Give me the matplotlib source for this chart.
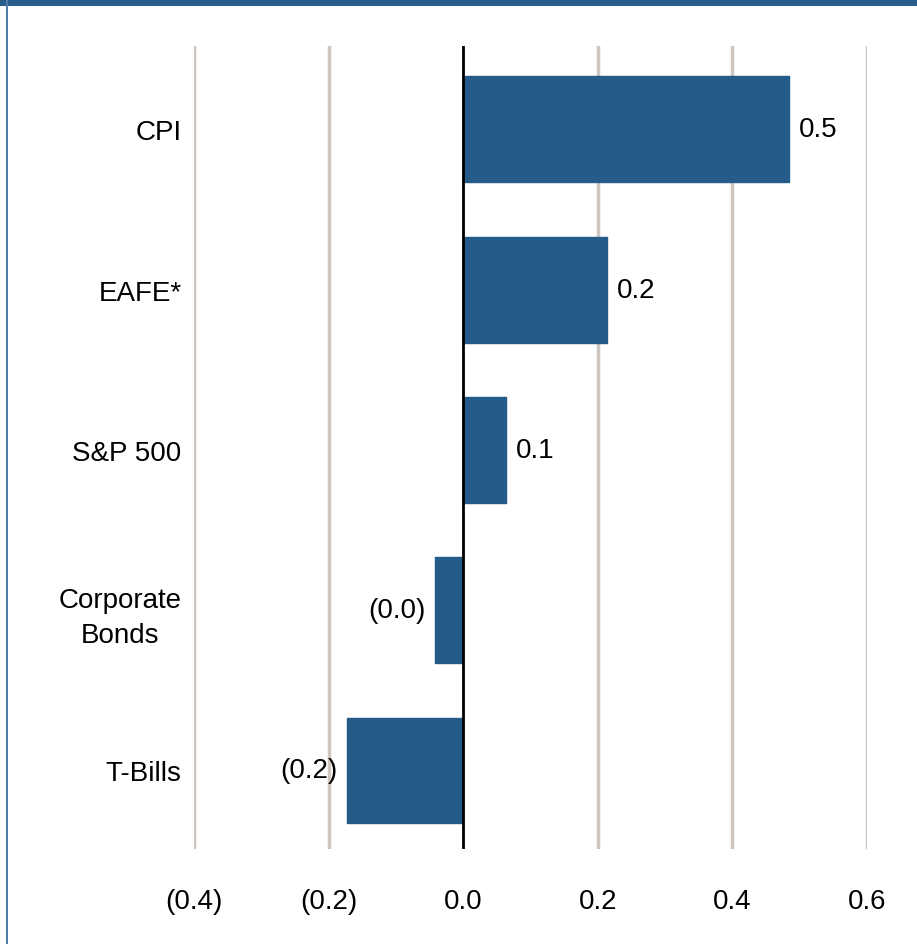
import matplotlib.pyplot as plt
from matplotlib.patches import Rectangle

categories = ["CPI", "EAFE*", "S&P 500", "Corporate\nBonds", "T-Bills"]
values = [0.484, 0.214, 0.064, -0.042, -0.172]
xticks = [-0.4, -0.2, 0.0, 0.2, 0.4, 0.6]

bar_color = "#255b88"
grid_color = "#cdc6c1"


def fmt(v):
    s = f"{abs(v):.1f}"
    return f"({s})" if v < 0 else s


plt.rcParams["font.family"] = ["Liberation Sans", "DejaVu Sans"]

W, H = 917, 945
fig = plt.figure(figsize=(W / 100, H / 100), dpi=100)

# frame: thick band along the top, thin rule down the left side
fig.patches.append(Rectangle((0, 1 - 7 / H), 1, 7 / H, transform=fig.transFigure,
                             facecolor="#285c8b", edgecolor="none", zorder=5))
fig.patches.append(Rectangle((6 / W, 0), 2 / W, 1, transform=fig.transFigure,
                             facecolor="#4f7ca9", edgecolor="none", zorder=5))

left, right = 194 / W, 867 / W
bottom, top = 1 - 850 / H, 1 - 47 / H
ax = fig.add_axes([left, bottom, right - left, top - bottom])

y = list(range(len(categories)))
ax.barh(y, values, height=0.66, color=bar_color, edgecolor=bar_color,
        linewidth=1, joinstyle="round", zorder=3)

for yi, v in zip(y, values):
    if v >= 0:
        ax.annotate(fmt(v), (v, yi), xytext=(7, 0), textcoords="offset points",
                    ha="left", va="center", fontsize=20)
    else:
        ax.annotate(fmt(v), (v, yi), xytext=(-7, 0), textcoords="offset points",
                    ha="right", va="center", fontsize=20)

ax.set_xlim(-0.4, 0.6)
ax.set_ylim(4.49, -0.52)
ax.set_xticks(xticks)
ax.set_xticklabels([fmt(t) for t in xticks], fontsize=20)
ax.set_yticks(y)
ax.set_yticklabels(categories, fontsize=20, multialignment="center",
                   linespacing=1.45)
ax.tick_params(axis="x", length=0, pad=28)
ax.tick_params(axis="y", length=0, pad=9)

for t in xticks:
    if t != 0:
        ax.axvline(t, color=grid_color, linewidth=2.5, zorder=1)
ax.axvline(0, color="black", linewidth=2, zorder=4)

for s in ax.spines.values():
    s.set_visible(False)

fig.savefig("out.png", dpi=100)
